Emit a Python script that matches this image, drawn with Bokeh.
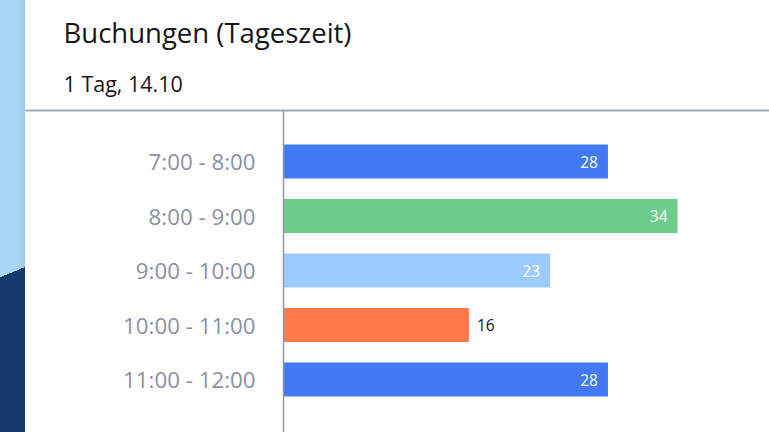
from bokeh.plotting import figure
from bokeh.models import Range1d, LinearAxis, FixedTicker, Span, Title, Div, ColumnDataSource
from bokeh.layouts import row
from bokeh.embed import file_html
from bokeh.resources import INLINE
from bokeh.core.properties import value

# ---- data ----
categories = ["7:00 - 8:00", "8:00 - 9:00", "9:00 - 10:00", "10:00 - 11:00", "11:00 - 12:00"]
bookings = [28, 34, 23, 16, 28]
bar_colors = ["#4279F4", "#6BCF8B", "#9BCBFD", "#FF7A4A", "#4279F4"]
title_text = "Buchungen (Tageszeit)"
subtitle_text = "1 Tag, 14.10"

# ---- layout constants ----
FONT = "Open Sans"
STRIP_W = 25
W_FIG = 769 - STRIP_W
H_FIG = 432
TOP = 110          # frame top (canvas px)
ZERO_X = 258       # pixel position of value 0 in frame
BAR_MAX_PX = 394   # pixel length of the longest bar
ROW_PX = 54.5
FIRST_ROW = 51

n = len(categories)
ypos = list(range(n))
vmax = max(bookings)
ppu = BAR_MAX_PX / vmax
x_start = -ZERO_X / ppu
x_end = (W_FIG - ZERO_X) / ppu
frame_h = H_FIG - TOP
y_top = -FIRST_ROW / ROW_PX
y_bot = y_top + frame_h / ROW_PX

inside = [v >= 20 for v in bookings]
src = ColumnDataSource(dict(
    y=ypos, cat=categories, v=bookings, col=bar_colors,
    zero=[0] * n,
))
src_in = ColumnDataSource(dict(
    y=[y for y, k in zip(ypos, inside) if k],
    v=[v for v, k in zip(bookings, inside) if k],
    t=[str(v) for v, k in zip(bookings, inside) if k],
))
src_out = ColumnDataSource(dict(
    y=[y for y, k in zip(ypos, inside) if not k],
    v=[v for v, k in zip(bookings, inside) if not k],
    t=[str(v) for v, k in zip(bookings, inside) if not k],
))

p = figure(width=W_FIG, height=H_FIG, output_backend="svg", toolbar_location=None,
           x_range=Range1d(x_start, x_end), y_range=Range1d(y_bot, y_top),
           x_axis_type=None, y_axis_type=None, title=None,
           min_border_left=0, min_border_right=0, min_border_bottom=0, min_border_top=TOP)
p.outline_line_color = None
p.xgrid.visible = False
p.ygrid.visible = False
p.background_fill_color = "white"
p.border_fill_color = "white"

# top rule as an axis above
top_axis = LinearAxis(ticker=FixedTicker(ticks=[]), major_label_text_font_size="0px",
                      major_tick_out=0, major_tick_in=0, minor_tick_out=0, minor_tick_in=0,
                      axis_line_color="#A3A7BA", axis_line_width=2)
p.add_layout(top_axis, "above")

sub = Title(text=subtitle_text, text_font=FONT, text_font_size="21.5px", text_font_style="normal",
            text_color="#161616", offset=38, standoff=25)
p.add_layout(sub, "above")
ttl = Title(text=title_text, text_font=FONT, text_font_size="27.5px", text_font_style="normal",
            text_color="#161616", offset=38, standoff=7)
p.add_layout(ttl, "above")

# baseline
p.add_layout(Span(location=0, dimension="height", line_color="#9296AE", line_width=1.5))

p.hbar(y="y", left="zero", right="v", height=0.62, color="col", source=src, line_color=None)

# category labels
p.text(x="zero", y="y", text="cat", source=src, x_offset=-28, text_align="right",
       text_baseline="middle", text_font=value(FONT), text_font_size="22.3px", text_color="#8B90A2")

# value labels
p.text(x="v", y="y", text="t", source=src_in, x_offset=-10, text_align="right",
       text_baseline="middle", text_font=value(FONT), text_font_size="15.5px", text_color="white")
p.text(x="v", y="y", text="t", source=src_out, x_offset=8, text_align="left",
       text_baseline="middle", text_font=value(FONT), text_font_size="15.5px", text_color="#111111")

strip = Div(text="", width=STRIP_W, height=H_FIG, margin=(0, 0, 0, 0),
            styles={"background": "linear-gradient(90deg, rgba(0,0,0,0) 16px, rgba(20,60,100,0.10) 25px), "
                                  "linear-gradient(158deg, #A9D7F7 257px, #163A6B 257px)"})

layout = row(strip, p, spacing=0)

open("out.html", "w").write(file_html(layout, INLINE))
